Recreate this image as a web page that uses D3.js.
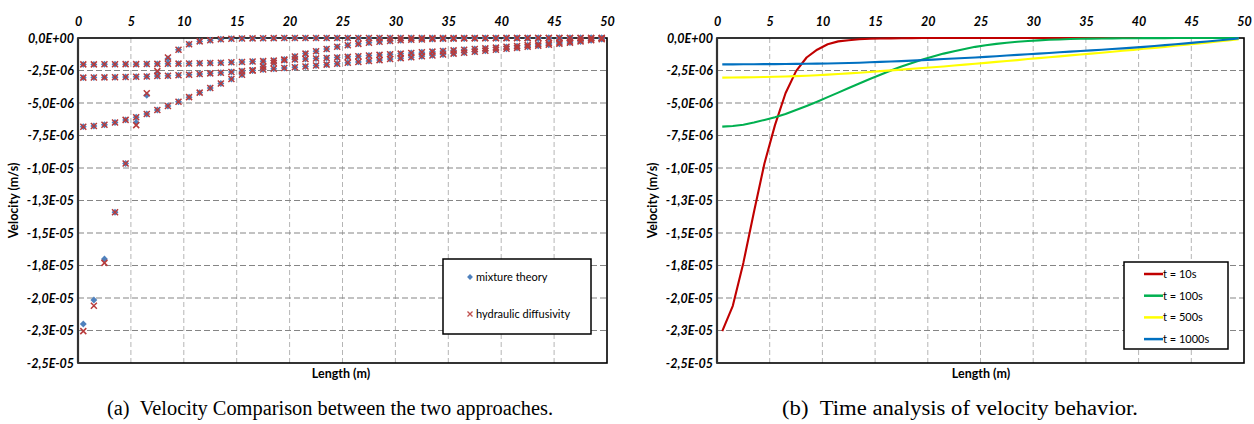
<!DOCTYPE html>
<html>
<head>
<meta charset="utf-8">
<script src="https://cdn.jsdelivr.net/npm/d3@7"></script>
<style>
  html, body { margin: 0; padding: 0; background: #fff; }
  svg { display: block; }
  .tick-lbl { font-family: Lato, "Liberation Sans", sans-serif; font-weight: bold; font-style: italic; font-size: 12.5px; fill: #000; }
  .ax-title { font-family: Lato, "Liberation Sans", sans-serif; font-weight: bold; font-size: 12.5px; fill: #000; }
  .leg-txt { font-family: Lato, "Liberation Sans", sans-serif; font-size: 11px; fill: #000; }
  .caption { font-family: "Liberation Serif", "DejaVu Serif", serif; font-size: 20px; fill: #000; }
</style>
</head>
<body>
<svg id="chart" width="1254" height="424"></svg>
<script>
// Velocity along the column, values in units of 1e-6 m/s, sampled at the cell centres (m)
const lengthPos = [0.5, 1.5, 2.5, 3.5, 4.5, 5.5, 6.5, 7.5, 8.5, 9.5,
  10.5, 11.5, 12.5, 13.5, 14.5, 15.5, 16.5, 17.5, 18.5, 19.5,
  20.5, 21.5, 22.5, 23.5, 24.5, 25.5, 26.5, 27.5, 28.5, 29.5,
  30.5, 31.5, 32.5, 33.5, 34.5, 35.5, 36.5, 37.5, 38.5, 39.5,
  40.5, 41.5, 42.5, 43.5, 44.5, 45.5, 46.5, 47.5, 48.5, 49.5];

// hydraulic diffusivity approach
const velT10 = [-22.55, -20.6, -17.3, -13.4, -9.65, -6.7, -4.25, -2.55, -1.5, -0.9,
  -0.48, -0.26, -0.17, -0.1, -0.06, -0.04, -0.03, -0.02, -0.01, 0,
  0, 0, 0, 0, 0, 0, 0, 0, 0, 0,
  0, 0, 0, 0, 0, 0, 0, 0, 0, 0,
  0, 0, 0, 0, 0, 0, 0, 0, 0, 0];
const velT100 = [-6.82, -6.77, -6.67, -6.5, -6.3, -6.1, -5.85, -5.54, -5.23, -4.9,
  -4.55, -4.2, -3.85, -3.5, -3.15, -2.82, -2.5, -2.2, -1.92, -1.65,
  -1.42, -1.2, -1.02, -0.85, -0.68, -0.56, -0.45, -0.36, -0.29, -0.23,
  -0.18, -0.14, -0.11, -0.08, -0.06, -0.05, -0.04, -0.03, -0.02, -0.02,
  -0.01, -0.01, -0.01, 0, 0, 0, 0, 0, 0, 0];
const velT500 = [-3.05, -3.04, -3.03, -3.02, -3.0, -2.98, -2.96, -2.93, -2.9, -2.86,
  -2.82, -2.77, -2.72, -2.67, -2.61, -2.55, -2.49, -2.43, -2.37, -2.31,
  -2.25, -2.19, -2.12, -2.05, -1.98, -1.91, -1.84, -1.77, -1.7, -1.62,
  -1.55, -1.48, -1.41, -1.34, -1.27, -1.2, -1.13, -1.06, -0.98, -0.91,
  -0.83, -0.76, -0.68, -0.6, -0.52, -0.44, -0.36, -0.27, -0.18, -0.09];
const velT1000 = [-2.03, -2.03, -2.02, -2.02, -2.01, -2.01, -2.0, -1.99, -1.98, -1.97,
  -1.96, -1.94, -1.92, -1.9, -1.87, -1.84, -1.81, -1.78, -1.74, -1.7,
  -1.66, -1.62, -1.58, -1.54, -1.5, -1.45, -1.4, -1.35, -1.3, -1.25,
  -1.2, -1.15, -1.1, -1.05, -1.0, -0.95, -0.9, -0.85, -0.8, -0.74,
  -0.68, -0.62, -0.55, -0.48, -0.41, -0.34, -0.27, -0.19, -0.11, -0.03];

// mixture theory approach: differs from the hydraulic result only near the inlet at t = 10 s
const mixT10 = [-22.0, -20.15, -17.0, -13.4, -9.65, -6.5, -4.4, -2.7, -1.6, -0.9,
  -0.48, -0.26, -0.17, -0.1, -0.06, -0.04, -0.03, -0.02, -0.01, 0,
  0, 0, 0, 0, 0, 0, 0, 0, 0, 0,
  0, 0, 0, 0, 0, 0, 0, 0, 0, 0,
  0, 0, 0, 0, 0, 0, 0, 0, 0, 0];

const hydraulicSeries = [velT10, velT100, velT500, velT1000];
const mixtureSeries = [mixT10, velT100, velT500, velT1000];

const timeLabels = ["t = 10s", "t = 100s", "t = 500s", "t = 1000s"];
const timeColors = ["#C00000", "#00B050", "#FFFF00", "#0070C0"];

const xTicks = [0, 5, 10, 15, 20, 25, 30, 35, 40, 45, 50];
const yTicks = [0, -2.5, -5, -7.5, -10, -12.5, -15, -17.5, -20, -22.5, -25];
const yTickLabels = ["0,0E+00", "-2,5E-06", "-5,0E-06", "-7,5E-06", "-1,0E-05", "-1,3E-05",
  "-1,5E-05", "-1,8E-05", "-2,0E-05", "-2,3E-05", "-2,5E-05"];

const svg = d3.select("#chart");

function drawFrame(g, x, y, xTitleX) {
  const [x0, x1] = x.range();
  const [y1, y0] = y.range();
  // grid
  g.append("g").selectAll("line").data(xTicks.slice(1, -1)).join("line")
    .attr("x1", d => x(d)).attr("x2", d => x(d)).attr("y1", y0).attr("y2", y1)
    .attr("stroke", "#b5b5b5").attr("stroke-width", 1).attr("stroke-dasharray", "5,3");
  g.append("g").selectAll("line").data(yTicks.slice(1, -1)).join("line")
    .attr("x1", x0).attr("x2", x1).attr("y1", d => y(d)).attr("y2", d => y(d))
    .attr("stroke", "#858585").attr("stroke-width", 1).attr("stroke-dasharray", "6,3");
  // top x axis
  const xa = d3.axisTop(x).tickValues(xTicks).tickSize(0).tickPadding(12);
  const gx = g.append("g").attr("transform", `translate(0,${y0})`).call(xa);
  gx.select(".domain").remove();
  gx.selectAll("text").attr("class", "tick-lbl").attr("font-family", null).attr("font-size", null);
  // left y axis
  const ya = d3.axisLeft(y).tickValues(yTicks).tickSize(0).tickPadding(4)
    .tickFormat((d, i) => yTickLabels[i]);
  const gy = g.append("g").attr("transform", `translate(${x0},0)`).call(ya);
  gy.select(".domain").remove();
  gy.selectAll("text").attr("class", "tick-lbl").attr("font-family", null).attr("font-size", null);
  // plot border
  g.append("rect").attr("x", x0).attr("y", y0).attr("width", x1 - x0).attr("height", y1 - y0)
    .attr("fill", "none").attr("stroke", "#000").attr("stroke-width", 1.6);
  g.append("line").attr("x1", x0).attr("x2", x0).attr("y1", y0).attr("y2", y1)
    .attr("stroke", "#333").attr("stroke-width", 2.2);
  // titles
  g.append("text").attr("class", "ax-title").attr("text-anchor", "middle")
    .attr("transform", `translate(${x0 - 64},${(y0 + y1) / 2}) rotate(-90)`)
    .attr("dy", "0.35em").text("Velocity (m/s)");
  g.append("text").attr("class", "ax-title").attr("text-anchor", "middle")
    .attr("x", xTitleX).attr("y", y1 + 15).text("Length (m)");
}

// ---- (a) comparison of the two approaches ----
const xA = d3.scaleLinear().domain([0, 50]).range([78, 607]);
const yA = d3.scaleLinear().domain([-25, 0]).range([363, 38]);
const gA = svg.append("g");
drawFrame(gA, xA, yA, 341);

const diamondType = d3.symbolDiamond2 || d3.symbolDiamond;
const diamond = d3.symbol().type(diamondType).size(30);
mixtureSeries.forEach(series => {
  gA.append("g").selectAll("path").data(series).join("path")
    .attr("d", diamond)
    .attr("transform", (d, i) => `translate(${xA(lengthPos[i])},${yA(d)})`)
    .attr("fill", "#4F81BD");
});
const cross = 3;
hydraulicSeries.forEach(series => {
  gA.append("g").selectAll("path").data(series).join("path")
    .attr("d", (d, i) => {
      const cx = xA(lengthPos[i]), cy = yA(d);
      return `M${cx - cross},${cy - cross}L${cx + cross},${cy + cross}M${cx - cross},${cy + cross}L${cx + cross},${cy - cross}`;
    })
    .attr("stroke", "#B83B3B").attr("stroke-width", 1.5).attr("fill", "none");
});

// legend (a)
const legA = gA.append("g");
legA.append("rect").attr("x", 443).attr("y", 259).attr("width", 148).attr("height", 75)
  .attr("fill", "#fff").attr("stroke", "#000").attr("stroke-width", 1.5);
legA.append("path").attr("d", d3.symbol().type(diamondType).size(22))
  .attr("transform", "translate(470,277)").attr("fill", "#4F81BD");
legA.append("text").attr("class", "leg-txt").attr("x", 476).attr("y", 277).attr("dy", "0.35em").text("mixture theory");
legA.append("path")
  .attr("d", `M${467.5},${311.5}L${472.5},${316.5}M${467.5},${316.5}L${472.5},${311.5}`)
  .attr("stroke", "#C0504D").attr("stroke-width", 1.3);
legA.append("text").attr("class", "leg-txt").attr("x", 476).attr("y", 314).attr("dy", "0.35em").text("hydraulic diffusivity");

// ---- (b) time analysis ----
const xB = d3.scaleLinear().domain([0, 50]).range([717, 1244]);
const yB = d3.scaleLinear().domain([-25, 0]).range([363, 38]);
const gB = svg.append("g");
drawFrame(gB, xB, yB, 981);

const lineB = d3.line().x((d, i) => xB(lengthPos[i])).y(d => yB(d));
hydraulicSeries.forEach((series, k) => {
  gB.append("path").datum(series).attr("d", lineB)
    .attr("fill", "none").attr("stroke", timeColors[k]).attr("stroke-width", 2.1)
    .attr("stroke-linejoin", "round");
});

// legend (b)
const legB = gB.append("g");
legB.append("rect").attr("x", 1124).attr("y", 262).attr("width", 104).attr("height", 87)
  .attr("fill", "#fff").attr("stroke", "#000").attr("stroke-width", 1.5);
timeLabels.forEach((lbl, k) => {
  const yy = 274 + k * 21.7;
  legB.append("line").attr("x1", 1144).attr("x2", 1163).attr("y1", yy).attr("y2", yy)
    .attr("stroke", timeColors[k]).attr("stroke-width", 2.5);
  legB.append("text").attr("class", "leg-txt").attr("x", 1163).attr("y", yy).attr("dy", "0.35em").text(lbl);
});

// captions
svg.append("text").attr("class", "caption").attr("text-anchor", "middle")
  .attr("x", 330).attr("y", 415)
  .attr("textLength", 446).attr("lengthAdjust", "spacingAndGlyphs")
  .text("(a)\u00A0\u00A0Velocity Comparison between the two approaches.");
svg.append("text").attr("class", "caption").attr("text-anchor", "middle")
  .attr("x", 960).attr("y", 415)
  .attr("textLength", 356).attr("lengthAdjust", "spacingAndGlyphs")
  .text("(b)\u00A0\u00A0Time analysis of velocity behavior.");
</script>
</body>
</html>
